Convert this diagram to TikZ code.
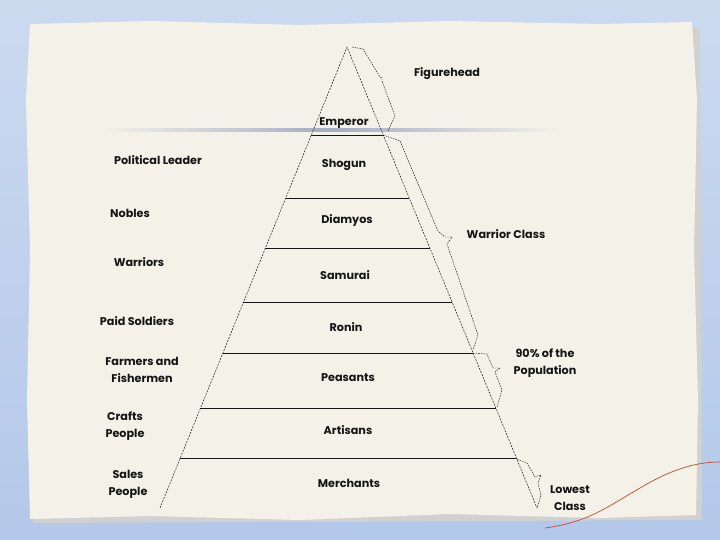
\documentclass[tikz,border=0pt]{standalone}
\usepackage{fontspec}
\setmainfont{Poppins}
\usepackage{xcolor}
\usetikzlibrary{calc}

\definecolor{frameblue}{HTML}{B3C8EA}
\definecolor{frametop}{HTML}{CCDAF0}
\definecolor{paper}{HTML}{F4F2E8}
\definecolor{rule}{HTML}{A3ACC6}
\definecolor{thread}{HTML}{C8462E}
\definecolor{ink}{HTML}{141414}

\begin{document}
\begin{tikzpicture}[x=1pt, y=-1pt,
    lbl/.style={font=\fontsize{11.2}{17}\selectfont\bfseries, text=ink, align=center, inner sep=0pt},
    side/.style={draw=ink, line width=0.5pt, dash pattern=on 2pt off 1.2pt},
    layer/.style={draw=ink, line width=0.8pt},
    brace/.style={draw=ink, line width=0.45pt, dash pattern=on 1.6pt off 1pt}]
  \useasboundingbox (0,0) rectangle (720,540);

  % backdrop and paper
  \shade[top color=frametop, bottom color=frameblue] (0,0) rectangle (720,540);
  \fill[black!18] (33,28) -- (700,27) -- (702,520) -- (33,523) -- cycle;
  \fill[paper] (30,24) -- (150,21) -- (300,25) -- (450,21) -- (600,24) -- (692,22)
    -- (697,100) -- (694,250) -- (698,400) -- (696,515) -- (600,518) -- (450,514)
    -- (300,520) -- (150,516) -- (30,519) -- (27,400) -- (30,250) -- (26,100) -- cycle;
  \shade[left color=paper, right color=paper, middle color=rule]
    (100,128.5) rectangle (560,131.5);
  \draw[thread, line width=0.7pt] (545,528) .. controls (590,522) and (610,505) .. (640,488)
    .. controls (670,470) and (695,462) .. (720,462);

  % pyramid
  \coordinate (apex) at (347,47);
  \coordinate (bl)   at (160,508);
  \coordinate (br)   at (537,508);
  \draw[side] (bl) -- (apex) -- (br);
  \foreach \t in {0.191,0.3275,0.436,0.555,0.664,0.784,0.8915}
    \draw[layer] ($(apex)!\t!(bl)$) -- ($(apex)!\t!(br)$);

  % braces on the right
  \draw[brace] (352,47) -- (363,49) -- (380,77) -- (382,78) -- (382,81) -- (395,116) -- (388,131);
  \draw[brace] (383,135) -- (400,141) -- (438,231) -- (445,237) -- (452,237) -- (447,244)
    -- (478,335) -- (473,350);
  \draw[brace] (473,353) -- (487,354) -- (493,368) -- (500,368) -- (495,372) -- (502,390)
    -- (497,407);
  \draw[brace] (517,459) -- (527,463) -- (535,477) -- (541,475) -- (538,483) -- (541,495)
    -- (537,508);

  % classes
  \node[lbl] (emperor)   at (344,123) {Emperor};
  \node[lbl] (shogun)    at (344,165) {Shogun};
  \node[lbl] (diamyos)   at (347,220) {Diamyos};
  \node[lbl] (samurai)   at (345,275) {Samurai};
  \node[lbl] (ronin)     at (346,327) {Ronin};
  \node[lbl] (peasants)  at (348,378) {Peasants};
  \node[lbl] (artisans)  at (348,430) {Artisans};
  \node[lbl] (merchants) at (349,483) {Merchants};

  % roles
  \node[lbl] (leader)   at (158,160) {Political Leader};
  \node[lbl] (nobles)   at (130,213) {Nobles};
  \node[lbl] (warriors) at (139,262) {Warriors};
  \node[lbl] (paid)     at (137,321) {Paid Soldiers};
  \node[lbl] (farmers)  at (142,370) {Farmers and\\Fishermen};
  \node[lbl] (crafts)   at (125,426) {Crafts\\People};
  \node[lbl] (sales)    at (128,484) {Sales\\People};

  % groups
  \node[lbl] (figure)  at (447,74)  {Figurehead};
  \node[lbl] (warrior) at (506,234) {Warrior Class};
  \node[lbl] (ninety)  at (545,363) {90\% of the\\Population};
  \node[lbl] (lowest)  at (570,498) {Lowest\\Class};
\end{tikzpicture}
\end{document}
